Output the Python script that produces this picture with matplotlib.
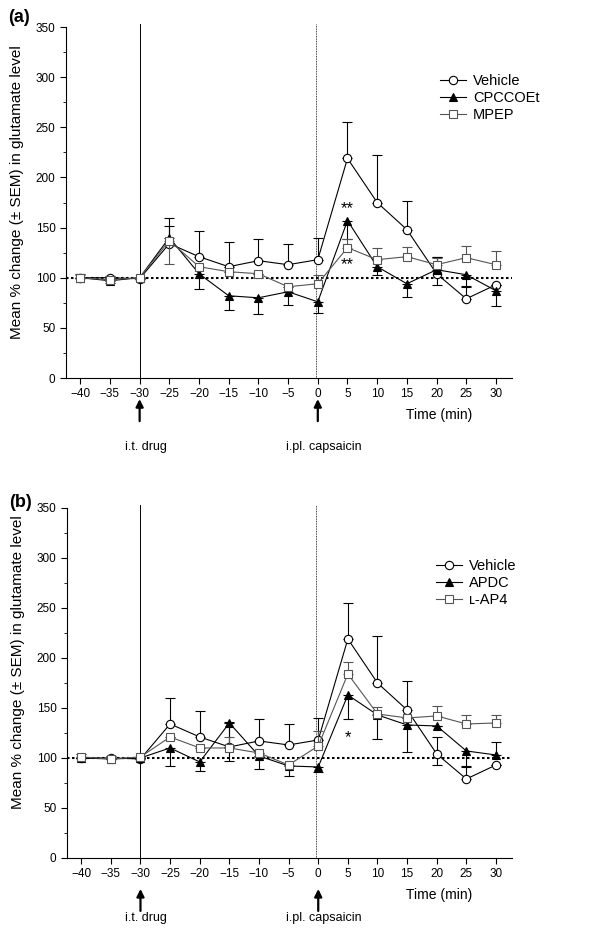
import numpy as np
import matplotlib
matplotlib.use("Agg")
import matplotlib.pyplot as plt
from matplotlib.ticker import MultipleLocator

plt.rcParams["font.family"] = ["Liberation Sans", "DejaVu Sans"]
plt.rcParams["axes.unicode_minus"] = True

nan = np.nan
time = [-40, -35, -30, -25, -20, -15, -10, -5, 0, 5, 10, 15, 20, 25, 30]

# vehicle group (same animals in both panels)
vehicle    = [100, 100, 99, 134, 121, 111, 117, 113, 118, 219, 175, 148, 104, 79, 93]
vehicle_lo = [nan, nan, nan, nan, nan, nan, nan, nan, nan, nan, nan, nan, 93, nan, nan]
vehicle_hi = [104, 102, 101, 160, 147, 136, 139, 134, 140, 255, 222, 177, 121, 92, nan]

# panel (a)
cpccoet    = [100, 97, 100, 140, 104, 82, 80, 86, 76, 157, 111, 94, 108, 103, 87]
cpccoet_lo = [nan, 95, nan, nan, 89, 68, 64, 73, 65, 139, 103, 81, nan, 91, 72]
cpccoet_hi = [nan, nan, nan, 152, nan, nan, nan, nan, nan, nan, nan, nan, 121, nan, nan]
mpep       = [100, 98, 100, 137, 111, 106, 104, 91, 94, 130, 118, 121, 113, 120, 113]
mpep_lo    = [nan, nan, nan, 114, nan, nan, nan, nan, nan, nan, nan, nan, nan, nan, nan]
mpep_hi    = [103, nan, nan, nan, nan, nan, nan, nan, 103, 139, 130, 131, 120, 132, 127]

# panel (b)
apdc       = [100, 99, 100, 110, 96, 135, 102, 92, 91, 163, 143, 133, 132, 107, 103]
apdc_lo    = [nan, nan, nan, 92, 87, 97, 89, 82, 86, 139, 119, 106, nan, 91, nan]
apdc_hi    = [nan, nan, nan, nan, nan, nan, nan, nan, nan, nan, nan, nan, nan, nan, 116]
lap4       = [101, 99, 101, 121, 110, 110, 105, 93, 112, 184, 144, 140, 142, 134, 135]
lap4_lo    = [nan, nan, nan, nan, nan, nan, nan, nan, nan, nan, nan, nan, nan, nan, nan]
lap4_hi    = [nan, nan, nan, nan, nan, 121, nan, nan, 127, 196, 151, nan, 152, 143, 143]

GREY = "#555555"


def series(ax, y, lo, hi, marker, face, color, label, z):
    y = np.array(y, float)
    lo = np.array(lo, float); hi = np.array(hi, float)
    down = np.where(np.isnan(lo), 0, y - lo)
    up = np.where(np.isnan(hi), 0, hi - y)
    ax.errorbar(time, y, yerr=[down, up], fmt="none", ecolor=color,
                elinewidth=0.8, capsize=3.5, capthick=0.8, zorder=z)
    ax.plot(time, y, color=color, lw=0.8, marker=marker, ms=6 if marker == "o" else 5.5,
            mfc=face, mec=color, mew=0.8, label=label, zorder=z + 0.5)


def panel(ax, tag, tag_y, groups, leg_anchor, arrow_y, label_y, ylab_y, stars):
    ax.set_xlim(-42.4, 32.7)
    ax.set_ylim(0, 350)
    ax.spines["top"].set_visible(False)
    ax.spines["right"].set_visible(False)
    ax.spines["left"].set_linewidth(0.8)
    ax.spines["bottom"].set_linewidth(0.8)
    ax.set_xticks(time)
    ax.yaxis.set_major_locator(MultipleLocator(50))
    ax.yaxis.set_minor_locator(MultipleLocator(25))
    ax.tick_params(axis="both", labelsize=8.5, width=0.8, length=4, direction="out")
    ax.tick_params(axis="y", which="minor", length=2.5, width=0.6)
    ax.set_ylabel("Mean % change (± SEM) in glutamate level", fontsize=11)
    ax.yaxis.set_label_coords(-0.094, ylab_y)

    ax.axhline(100, color="black", ls=(0, (1.2, 1.2)), lw=1.5, zorder=1)
    ax.plot([-30, -30], [0, 353], color="black", lw=0.7, clip_on=False, zorder=1)
    ax.plot([-0.3, -0.3], [0, 353], color="black", lw=0.6, ls=(0, (1, 1)),
            clip_on=False, zorder=1)

    z = 3
    for y, lo, hi, marker, face, color, label in groups:
        series(ax, y, lo, hi, marker, face, color, label, z)
        z += 1

    for xs, ys, s in stars:
        ax.text(xs, ys, s, ha="center", va="center", fontsize=12)

    ax.legend(loc="upper left", bbox_to_anchor=leg_anchor, bbox_transform=ax.transData,
              frameon=False, fontsize=10.5, handlelength=1.8, handletextpad=0.5,
              labelspacing=0.2, borderpad=0, borderaxespad=0)

    for xa, txt, xt in [(-30, "i.t. drug", -29), (0, "i.pl. capsaicin", 1)]:
        ax.annotate("", xy=(xa, arrow_y), xytext=(xa, arrow_y - 22),
                    xycoords="data", textcoords="data", annotation_clip=False,
                    arrowprops=dict(arrowstyle="-|>", color="black", lw=1.6,
                                    mutation_scale=11, shrinkA=0, shrinkB=0))
        ax.text(xt, label_y, txt, ha="center", va="center", fontsize=9, clip_on=False)
    ax.text(20.4, -37, "Time (min)", ha="center", va="center", fontsize=10, clip_on=False)
    ax.text(-0.13, tag_y, tag, transform=ax.transAxes, fontsize=13, fontweight="bold",
            ha="left", va="center")


fig = plt.figure(figsize=(6.01, 9.35), dpi=100)
ax_a = fig.add_axes([0.1098, 0.5957, 0.7421, 0.3754])
ax_b = fig.add_axes([0.1115, 0.0824, 0.7404, 0.3743])

panel(ax_a, "(a)", 1.026,
      [(vehicle, vehicle_lo, vehicle_hi, "o", "white", "black", "Vehicle"),
       (cpccoet, cpccoet_lo, cpccoet_hi, "^", "black", "black", "CPCCOEt"),
       (mpep, mpep_lo, mpep_hi, "s", "white", GREY, "MPEP")],
      (20.5, 303), -21, -69, 0.53, [(5, 169, "**"), (5, 113, "**")])

panel(ax_b, "(b)", 1.017,
      [(vehicle, vehicle_lo, vehicle_hi, "o", "white", "black", "Vehicle"),
       (apdc, apdc_lo, apdc_hi, "^", "black", "black", "APDC"),
       (lap4, lap4_lo, lap4_hi, "s", "white", GREY, "ʟ-AP4")],
      (19.8, 299), -31, -60, 0.56, [(5, 120, "*")])

fig.savefig("out.png", dpi=100)
